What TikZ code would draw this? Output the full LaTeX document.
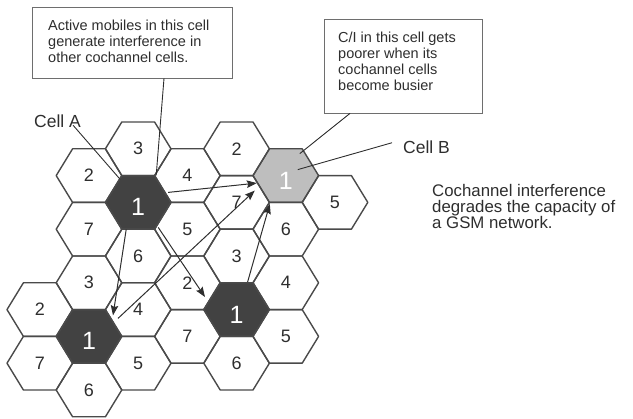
\documentclass[tikz,border=0pt]{standalone}
\usepackage{fontspec}
\setmainfont{Liberation Sans}
\usetikzlibrary{arrows.meta,calc}
\definecolor{ink}{HTML}{2E2E2E}
\definecolor{edgegray}{HTML}{4A4A4A}
\definecolor{darkcell}{HTML}{424242}
\definecolor{lightcell}{HTML}{BEBEBE}
\definecolor{boxline}{HTML}{6E6E6E}
\newcommand\hexcell[6]{%
  \pgfmathsetmacro\hx{138.2+49.2*(#1)}%
  \pgfmathsetmacro\hy{202.4+53.6*((#2)+(#1)/2)}%
  \draw[hexedge,#3] (\hx+32.8,\hy) -- (\hx+16.4,\hy+26.8) -- (\hx-16.4,\hy+26.8)
     -- (\hx-32.8,\hy) -- (\hx-16.4,\hy-26.8) -- (\hx+16.4,\hy-26.8) -- cycle;
  \coordinate (#6) at (\hx,\hy);
  \node[#4] (#6-t) at (\hx,\hy) {#5};
}
\begin{document}
\begin{tikzpicture}[x=1pt,y=-1pt,
  hexedge/.style={draw=edgegray,line width=1.4pt,line join=round},
  darkfill/.style={fill=darkcell},
  lightfill/.style={fill=lightcell},
  plain/.style={},
  digit/.style={text=ink,inner sep=0pt,font=\fontsize{18}{20}\selectfont},
  bigone/.style={text=white,inner sep=0pt,yshift=-5pt,font=\fontsize{25}{28}\selectfont},
  note/.style={text=ink,inner sep=0pt,align=left,font=\fontsize{14.5}{16}\selectfont},
  callbox/.style={draw=boxline,line width=0.8pt,inner sep=0pt},
  tag/.style={text=ink,inner sep=0pt,font=\fontsize{17.5}{20}\selectfont},
  hit/.style={draw=ink,line width=1pt,-{Stealth[length=10pt,width=7.5pt,inset=1.5pt]}},
  pointer/.style={draw=ink,line width=0.9pt}]
\useasboundingbox (0,0) rectangle (633,419);
% shaded cells first
\hexcell{0}{0}{darkfill}{bigone}{1}{A}
\hexcell{3}{-2}{lightfill}{bigone}{1}{B}
\hexcell{2}{1}{darkfill}{bigone}{1}{BR}
\hexcell{-1}{3}{darkfill}{bigone}{1}{BL}
% cluster A
\hexcell{0}{-1}{plain}{digit}{3}{a3}
\hexcell{1}{-1}{plain}{digit}{4}{a4}
\hexcell{1}{0}{plain}{digit}{5}{a5}
\hexcell{0}{1}{plain}{digit}{6}{a6}
\hexcell{-1}{1}{plain}{digit}{7}{a7}
\hexcell{-1}{0}{plain}{digit}{2}{a2}
% cluster B
\hexcell{4}{-2}{plain}{digit}{5}{b5}
\hexcell{3}{-1}{plain}{digit}{6}{b6}
\hexcell{2}{-1}{plain}{digit}{7}{b7}
\hexcell{2}{-2}{plain}{digit}{2}{b2}
% cluster BR
\hexcell{2}{0}{plain}{digit}{3}{r3}
\hexcell{3}{0}{plain}{digit}{4}{r4}
\hexcell{3}{1}{plain}{digit}{5}{r5}
\hexcell{2}{2}{plain}{digit}{6}{r6}
\hexcell{1}{2}{plain}{digit}{7}{r7}
\hexcell{1}{1}{plain}{digit}{2}{r2}
% cluster BL
\hexcell{-1}{2}{plain}{digit}{3}{l3}
\hexcell{0}{2}{plain}{digit}{4}{l4}
\hexcell{0}{3}{plain}{digit}{5}{l5}
\hexcell{-1}{4}{plain}{digit}{6}{l6}
\hexcell{-2}{4}{plain}{digit}{7}{l7}
\hexcell{-2}{3}{plain}{digit}{2}{l2}
% call-out boxes and texts
\node[callbox,minimum width=200pt,minimum height=71pt] (box1) at (132,42.5) {};
\node[note,anchor=north west] (t1) at (48,20) {Active mobiles in this cell\\generate interference in\\other cochannel cells.};
\node[callbox,minimum width=158pt,minimum height=94pt] (box2) at (403,66) {};
\node[note,anchor=north west] (t2) at (338,31.5) {C/I in this cell gets\\poorer when its\\cochannel cells\\become busier};
\node[tag,anchor=base west] (cellA) at (34,128) {Cell A};
\node[tag,anchor=base west] (cellB) at (403,154) {Cell B};
\node[note,anchor=north west,font=\fontsize{16.8}{16.2}\selectfont] (t3) at (432,184)
  {Cochannel interference\\degrades the capacity of\\a GSM network.};
% pointers
\draw[pointer] ($(box1.south)+(32,0)$) -- ($(A)+(18,-27)$);
\draw[pointer] ($(box2.south)+(-53,0)$) -- ($(B)+(14,-22)$);
\draw[pointer] ($(cellB.west)+(-11,-5)$) -- ($(B)+(12,-6)$);
\draw[pointer] ($(cellA.east)+(-8,3.5)$) -- ($(A)+(-18,-23)$);
% interference arrows
\draw[hit] ($(A)+(30,-10)$) -- ($(B)+(-29,7.5)$);
\draw[hit] ($(BL)+(29,-18)$) -- ($(B)+(-31,15)$);
\draw[hit] ($(BR)+(11,-27.6)$) -- ($(B)+(-16,28.4)$);
\draw[hit] ($(A)+(20,25)$) -- ($(BR)+(-31.6,-12.6)$);
\draw[hit] ($(A)+(-12,27)$) -- ($(BL)+(24,-21)$);
\end{tikzpicture}
\end{document}
